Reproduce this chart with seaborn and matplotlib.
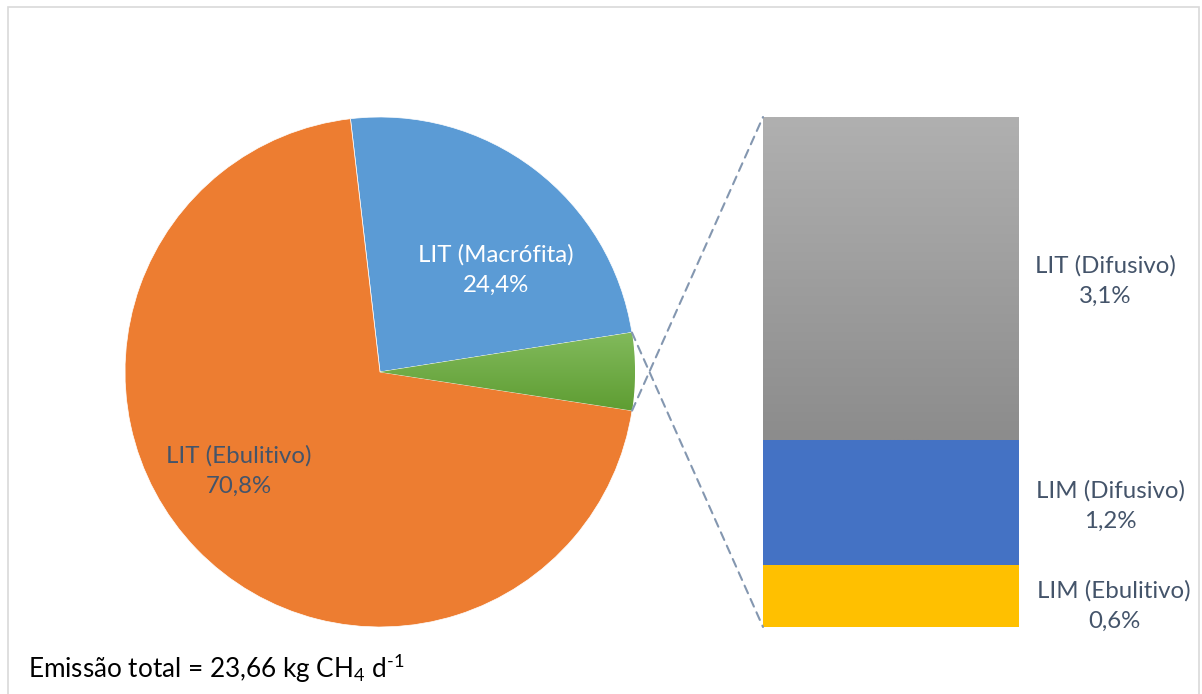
import numpy as np
import pandas as pd
import seaborn as sns
import matplotlib.pyplot as plt
from matplotlib.patches import ConnectionPatch, Rectangle
from matplotlib.colors import LinearSegmentedColormap

# data
pie_labels = ['LIT (Macrófita)', 'Outros', 'LIT (Ebulitivo)']
pie_values = [24.4, 4.9, 70.8]
bar_labels = ['LIM (Ebulitivo)', 'LIM (Difusivo)', 'LIT (Difusivo)']
bar_values = [0.6, 1.2, 3.1]
total_txt = r'Emissão total = 23,66 kg CH$_4$ d$^{\text{-}1}$'

sns.set_theme(style='white')
plt.rcParams['font.family'] = ['Lato', 'DejaVu Sans']
plt.rcParams['mathtext.fontset'] = 'custom'
plt.rcParams['mathtext.rm'] = 'Lato'
plt.rcParams['mathtext.it'] = 'Lato'

W, H = 1202, 694
fig = plt.figure(figsize=(W / 100, H / 100), dpi=100)
fig.patch.set_facecolor('white')

def fig_box(x0, y0, x1, y1):
    return [x0 / W, 1 - y1 / H, (x1 - x0) / W, (y1 - y0) / H]

# outer border
fig.patches.append(Rectangle((8 / W, -0.05), (1199 - 8) / W, 1 - 7 / H + 0.05,
                             transform=fig.transFigure, fill=False,
                             edgecolor='#d9d9d9', lw=1.2))

txt_col = '#44546a'
fs = 17.3
lsp = 1.5

# pie
ax_pie = fig.add_axes(fig_box(125, 117, 635, 627))
start = 360 * (pie_values[0] + pie_values[1] / 2) / 100
wedges, _ = ax_pie.pie(pie_values, colors=['#5b9bd5', '#70ad47', '#ed7d31'],
                       startangle=start, counterclock=False, radius=1,
                       wedgeprops=dict(edgecolor='white', linewidth=0.5))

# green gradient slice
grad = np.linspace(0, 1, 256).reshape(-1, 1)
green_cm = LinearSegmentedColormap.from_list('g', ['#5e9d32', '#82ba5c'])
th1, th2 = wedges[1].theta1, wedges[1].theta2
ys = [np.sin(np.radians(th1)), np.sin(np.radians(th2))]
im = ax_pie.imshow(grad, cmap=green_cm, extent=[0, 1, min(ys), max(ys)],
                   origin='lower', aspect='auto', zorder=2)
im.set_clip_path(wedges[1])
ax_pie.set_xlim(-1, 1)
ax_pie.set_ylim(-1, 1)
ax_pie.set_aspect('equal')
ax_pie.axis('off')

def pct(lab, v):
    return f'{lab}\n{v:.1f}%'.replace('.', ',')

fig.text(496 / W, 1 - 270 / H, pct(pie_labels[0], pie_values[0]), color='white',
         ha='center', va='center', fontsize=fs, linespacing=lsp, zorder=5)
fig.text(239 / W, 1 - 471 / H, pct(pie_labels[2], pie_values[2]), color=txt_col,
         ha='center', va='center', fontsize=fs, linespacing=lsp, zorder=5)

# stacked bar
ax_bar = fig.add_axes(fig_box(763, 117, 1019, 627))
df = pd.DataFrame({'x': ['a'] * 3, 'label': bar_labels, 'value': bar_values})
bottoms = np.concatenate([[0], np.cumsum(bar_values)[:-1]])
bar_cols = ['#ffc000', '#4472c4', '#a0a0a0']
for i in range(3):
    sns.barplot(data=df.iloc[[i]], x='x', y='value', color=bar_cols[i],
                bottom=bottoms[i], width=1, saturation=1, ax=ax_bar, linewidth=0)

gray_cm = LinearSegmentedColormap.from_list('k', ['#8c8c8c', '#b0b0b0'])
top_bar = ax_bar.patches[-1]
im2 = ax_bar.imshow(grad, cmap=gray_cm, extent=[-0.5, 0.5, bottoms[2], sum(bar_values)],
                    origin='lower', aspect='auto', zorder=3)
im2.set_clip_path(top_bar)
ax_bar.set_xlim(-0.5, 0.5)
ax_bar.set_ylim(0, sum(bar_values))
ax_bar.axis('off')

label_pos = [(1114, 606), (1110, 506), (1105, 281)]
for (px, py), lab, v in zip(label_pos, bar_labels, bar_values):
    fig.text(px / W, 1 - py / H, pct(lab, v), color=txt_col,
             ha='center', va='center', fontsize=fs, linespacing=lsp)

# connector lines
for ang, yb in [(th1, sum(bar_values)), (th2, 0)]:
    con = ConnectionPatch(xyA=(np.cos(np.radians(ang)), np.sin(np.radians(ang))), coordsA=ax_pie.transData,
                          xyB=(-0.5, yb), coordsB=ax_bar.transData,
                          color='#8497b0', lw=1.5, linestyle=(0, (4, 3)))
    fig.add_artist(con)

fig.text(28 / W, 1 - 669 / H, total_txt, fontsize=18.8, color='black', ha='left', va='center')

fig.savefig('out.png', dpi=100)
